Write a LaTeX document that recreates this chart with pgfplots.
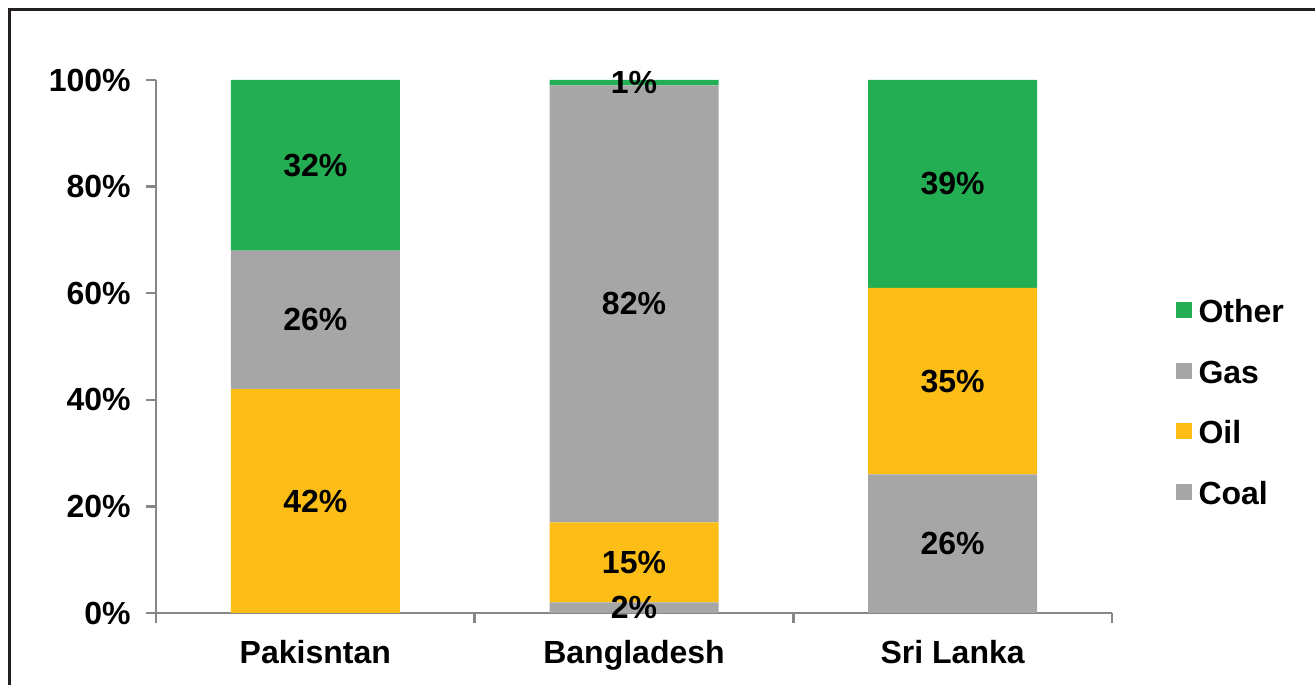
\documentclass[border=0pt]{standalone}
\usepackage{pgfplots}
\pgfplotsset{compat=1.18}
\usepackage{pgfplotstable}
\usepackage{fontspec}
\setmainfont{Liberation Sans}
\definecolor{cgreen}{RGB}{36,174,84}
\definecolor{cgray}{RGB}{166,166,166}
\definecolor{cyellow}{RGB}{252,190,22}
\definecolor{caxis}{RGB}{134,134,134}
\definecolor{cframe}{RGB}{35,31,32}
\pgfplotstableread{
x coal oil gas other
0 0 42 26 32
1 2 15 82 1
2 26 35 0 39
}\datatable
\begin{document}
\begin{tikzpicture}[font=\fontsize{16bp}{19bp}\selectfont\bfseries]
\path[use as bounding box] (0,0) rectangle (657.5bp,342.5bp);
\draw[cframe, line width=1.5bp] (4.75bp,-10bp) -- (4.75bp,337.5bp) -- (670bp,337.5bp);
\begin{axis}[
  at={(78bp,36bp)}, anchor=south west,
  scale only axis, width=478bp, height=266.5bp,
  ybar stacked, bar width=84.5bp,
  xmin=-0.5, xmax=2.5, ymin=0, ymax=100,
  axis x line*=bottom, axis y line*=left,
  axis line style={caxis, line width=1.2bp},
  tick align=outside,
  major tick length=5bp,
  tick style={caxis, line width=1.2bp},
  ytick={0,20,40,60,80,100},
  yticklabels={0\%,20\%,40\%,60\%,80\%,100\%},
  yticklabel style={anchor=east, inner sep=0pt, xshift=-7.5bp, font=\fontsize{16bp}{19bp}\selectfont\bfseries},
  xtick={-0.5,0.5,1.5,2.5},
  x tick label as interval,
  xticklabels={Pakisntan,Bangladesh,Sri Lanka},
  xticklabel style={anchor=north, inner sep=0pt, yshift=-8.5bp, font=\fontsize{16bp}{19bp}\selectfont\bfseries},
  legend style={at={(1.066,0.397)}, anchor=west, draw=none, fill=none,
    inner sep=0pt, row sep=18.25bp, column sep=3.5bp,
    nodes={inner sep=0pt, text height=12bp, text depth=0pt, anchor=west},
    font=\fontsize{16bp}{19bp}\selectfont\bfseries},
  legend cell align=left,
  reverse legend,
  legend image code/.code={\fill[#1, draw=none] (0bp,-3.7bp) rectangle (8bp,4.3bp);},
]
\addplot[fill=cgray, draw=none] table[x=x, y=coal] {\datatable};
\addplot[fill=cyellow, draw=none] table[x=x, y=oil] {\datatable};
\addplot[fill=cgray, draw=none] table[x=x, y=gas] {\datatable};
\addplot[fill=cgreen, draw=none] table[x=x, y=other] {\datatable};
\legend{Coal,Oil,Gas,Other}
\end{axis}
\begin{axis}[
  at={(78bp,36bp)}, anchor=south west,
  scale only axis, width=478bp, height=266.5bp,
  xmin=-0.5, xmax=2.5, ymin=0, ymax=100,
  hide axis, clip=false,
]
\addplot[draw=none, mark=none, point meta=explicit symbolic,
  nodes near coords, nodes near coords align=center,
  every node near coord/.append style={anchor=center, black, inner sep=0pt,
    font=\fontsize{16bp}{19bp}\selectfont\bfseries}]
  coordinates {
  (0,21) [42\%] (0,55) [26\%] (0,84) [32\%]
  (1,1) [2\%] (1,9.5) [15\%] (1,58) [82\%] (1,99.5) [1\%]
  (2,13) [26\%] (2,43.5) [35\%] (2,80.5) [39\%]
  };
\end{axis}
\end{tikzpicture}
\end{document}
